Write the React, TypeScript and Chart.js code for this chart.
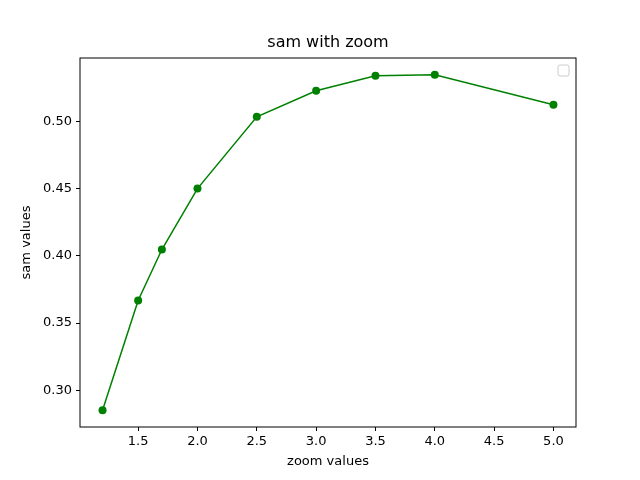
import React, { useEffect, useRef } from 'react';
import { Chart, registerables } from 'chart.js';

Chart.register(...registerables);

const zoomValues = [1.2, 1.5, 1.7, 2.0, 2.5, 3.0, 3.5, 4.0, 5.0];
const samValues = [0.2851, 0.3669, 0.4048, 0.4502, 0.5037, 0.5231, 0.5342, 0.535, 0.5126];
const xTicks = [1.5, 2.0, 2.5, 3.0, 3.5, 4.0, 4.5, 5.0];
const yTicks = [0.3, 0.35, 0.4, 0.45, 0.5];

const FONT = 'DejaVu Sans';

// frame, title, axis titles and the empty legend box, matplotlib style
const decorations = {
  id: 'decorations',
  afterDraw(chart: Chart) {
    const { ctx, chartArea: a } = chart;
    ctx.save();
    ctx.strokeStyle = '#000';
    ctx.lineWidth = 1;
    ctx.strokeRect(a.left, a.top, a.right - a.left, a.bottom - a.top);
    ctx.fillStyle = '#000';
    ctx.textAlign = 'center';
    ctx.textBaseline = 'middle';
    ctx.font = `16px ${FONT}`;
    ctx.fillText('sam with zoom', (a.left + a.right) / 2, 43);
    ctx.font = `13px ${FONT}`;
    ctx.fillText('zoom values', (a.left + a.right) / 2, 462);
    ctx.translate(27, (a.top + a.bottom) / 2);
    ctx.rotate(-Math.PI / 2);
    ctx.fillText('sam values', 0, 0);
    ctx.restore();
    ctx.save();
    ctx.strokeStyle = '#ccc';
    ctx.fillStyle = 'rgba(255,255,255,0.8)';
    ctx.beginPath();
    ctx.roundRect(a.right - 18, a.top + 7, 11, 11, 2);
    ctx.fill();
    ctx.stroke();
    ctx.restore();
  },
};

export default function App() {
  const ref = useRef<HTMLCanvasElement>(null);
  useEffect(() => {
    document.body.style.margin = '0';
    if (!ref.current) return;
    const chart = new Chart(ref.current, {
      type: 'line',
      data: {
        datasets: [
          {
            data: zoomValues.map((x, i) => ({ x, y: samValues[i] })),
            borderColor: 'green',
            backgroundColor: 'green',
            borderWidth: 1.5,
            pointRadius: 4,
            pointBorderWidth: 0,
            tension: 0,
          },
        ],
      },
      options: {
        animation: false,
        responsive: false,
        layout: { padding: { top: 58, right: 64, left: 0, bottom: 0 } },
        plugins: { legend: { display: false }, tooltip: { enabled: false } },
        scales: {
          x: {
            type: 'linear',
            min: 1.01,
            max: 5.19,
            afterBuildTicks: (s: any) => { s.ticks = xTicks.map((v) => ({ value: v })); },
            afterFit: (s: any) => { s.height = 53; },
            grid: { drawOnChartArea: false, tickLength: 4, color: '#000' },
            border: { display: false },
            ticks: { color: '#000', font: { family: FONT, size: 13 }, padding: 3, callback: (v: any) => Number(v).toFixed(1) },
          },
          y: {
            type: 'linear',
            min: 0.2726,
            max: 0.5475,
            afterBuildTicks: (s: any) => { s.ticks = yTicks.map((v) => ({ value: v })); },
            afterFit: (s: any) => { s.width = 80; },
            grid: { drawOnChartArea: false, tickLength: 4, color: '#000' },
            border: { display: false },
            ticks: { color: '#000', font: { family: FONT, size: 13 }, padding: 4, callback: (v: any) => Number(v).toFixed(2) },
          },
        },
      },
      plugins: [decorations],
    });
    return () => chart.destroy();
  }, []);
  return <canvas ref={ref} width={640} height={480} style={{ display: 'block', background: '#fff' }} />;
}
